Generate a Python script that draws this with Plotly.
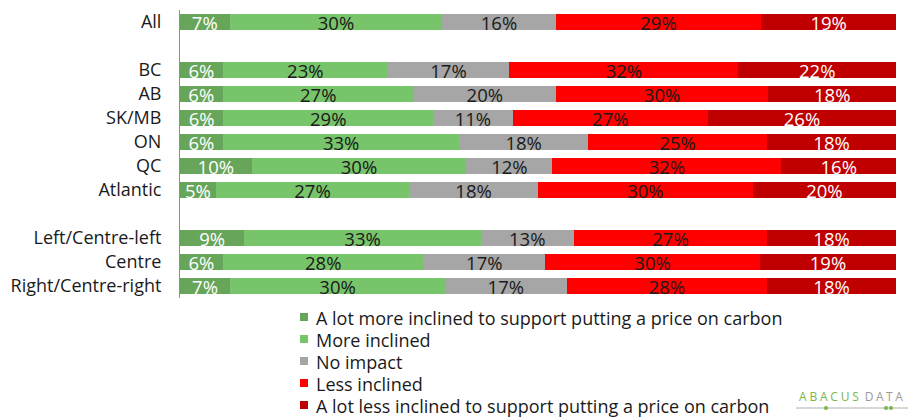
import plotly.graph_objects as go

categories = ["All", "BC", "AB", "SK/MB", "ON", "QC", "Atlantic",
              "Left/Centre-left", "Centre", "Right/Centre-right"]
# row slots (gaps left between groups)
slots = [0, 2, 3, 4, 5, 6, 7, 9, 10, 11]

series_names = [
    "A lot more inclined to support putting a price on carbon",
    "More inclined",
    "No impact",
    "Less inclined",
    "A lot less inclined to support putting a price on carbon",
]
a_lot_more = [7, 6, 6, 6, 6, 10, 5, 9, 6, 7]
more = [30, 23, 27, 29, 33, 30, 27, 33, 28, 30]
no_impact = [16, 17, 20, 11, 18, 12, 18, 13, 17, 17]
less = [29, 32, 30, 27, 25, 32, 30, 27, 30, 28]
a_lot_less = [19, 22, 18, 26, 18, 16, 20, 18, 19, 18]

series_values = [a_lot_more, more, no_impact, less, a_lot_less]
colors = ["#67A65A", "#78C46A", "#A6A6A6", "#FF0000", "#C00000"]
text_colors = ["white", "#1a1a1a", "#1a1a1a", "#1a1a1a", "white"]

FONT = "Open Sans"
W, H = 913, 417
ML, MR, MT, MB = 180, 17, 10, 119
PW, PH = W - ML - MR, H - MT - MB

def px_x(x):
    return (x - ML) / PW

def px_y(y):
    return (H - MB - y) / PH

fig = go.Figure()
for name, vals, col, tcol in zip(series_names, series_values, colors, text_colors):
    fig.add_trace(go.Bar(
        name=name, y=slots, x=vals, orientation="h",
        marker=dict(color=col, line=dict(width=0)),
        width=0.7,
        text=[f"{v}%" for v in vals],
        textposition="inside", insidetextanchor="middle", textangle=0,
        insidetextfont=dict(color=tcol, size=18.5, family=FONT),
        hoverinfo="skip", showlegend=False,
    ))

fig.update_layout(
    barmode="stack", barnorm="percent",
    width=W, height=H,
    margin=dict(l=ML, r=MR, t=MT, b=MB, autoexpand=False),
    paper_bgcolor="white", plot_bgcolor="white",
    font=dict(family=FONT, size=18, color="#1a1a1a"),
    uniformtext=dict(minsize=18.5, mode="show"),
    xaxis=dict(range=[0, 100], showticklabels=False, showgrid=False,
               zeroline=False, showline=False, fixedrange=True),
    yaxis=dict(range=[11.5, -0.5], tickvals=slots, ticktext=categories,
               showgrid=False, zeroline=False, showline=True,
               linecolor="#8c8c8c", linewidth=1, ticks="",
               ticklabelstandoff=14, fixedrange=True,
               tickfont=dict(size=18, family=FONT, color="#1a1a1a")),
)

# manual legend (tight spacing like the original)
for i, (name, col) in enumerate(zip(series_names, colors)):
    yc = 317 + 22 * i
    fig.add_shape(type="rect", xref="paper", yref="paper",
                  x0=px_x(300), x1=px_x(308), y0=px_y(yc + 4), y1=px_y(yc - 4),
                  line=dict(width=0), fillcolor=col)
    fig.add_annotation(xref="paper", yref="paper", x=px_x(314), y=px_y(yc + 1),
                       xanchor="left", yanchor="middle", text=name,
                       showarrow=False, font=dict(size=18, family=FONT, color="#1a1a1a"))

# logo-like text
fig.add_annotation(
    xref="paper", yref="paper", x=px_x(907), y=px_y(396), xanchor="right", yanchor="middle",
    text="<span style='color:#7AB648;letter-spacing:2.8px'>ABACUS</span> <span style='color:#9a9a9a;letter-spacing:2.5px'>DATA</span>",
    showarrow=False, font=dict(size=12, family=FONT),
)
fig.add_shape(type="line", xref="paper", yref="paper",
              x0=px_x(796), x1=px_x(908), y0=px_y(408), y1=px_y(408),
              line=dict(color="#b0b0b0", width=1))
for cx in [826, 886, 891]:
    fig.add_shape(type="circle", xref="paper", yref="paper",
                  x0=px_x(cx - 2), x1=px_x(cx + 2), y0=px_y(410), y1=px_y(406),
                  line=dict(width=0), fillcolor="#7AB648")

fig.write_html("out.html", config={"displayModeBar": False, "staticPlot": True},
               post_script="document.body.style.margin='0px';document.body.style.overflow='hidden';")
